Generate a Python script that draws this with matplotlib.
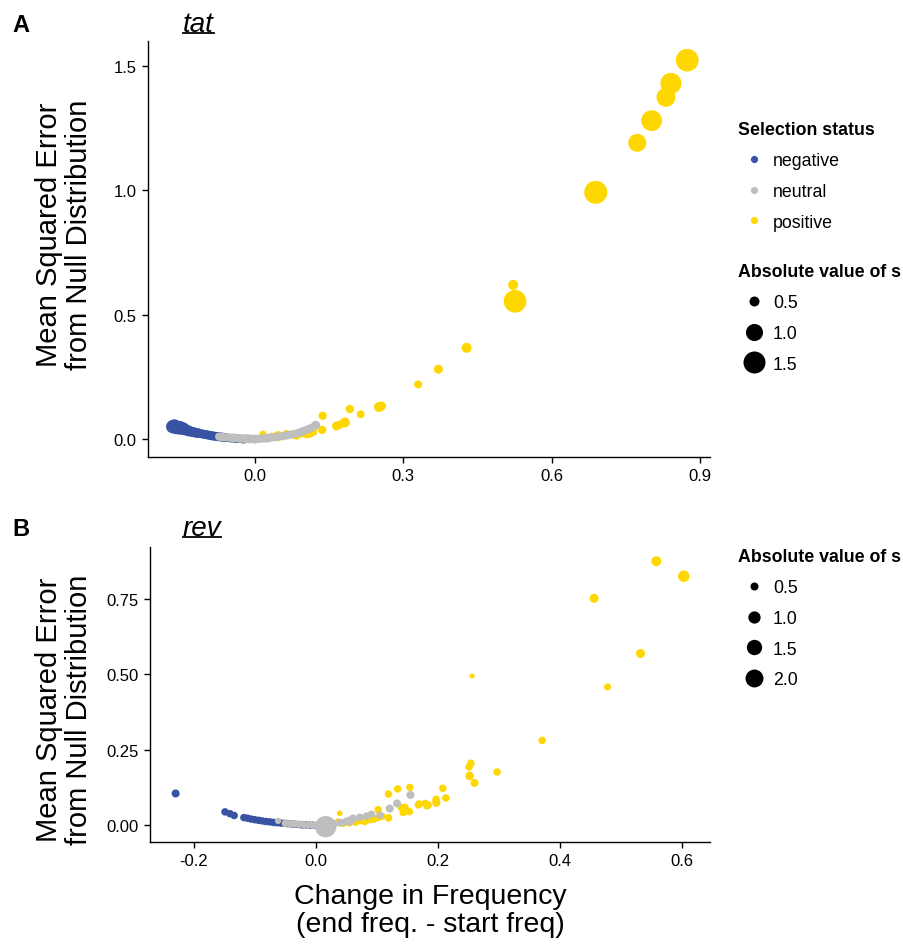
import numpy as np
import matplotlib
matplotlib.use('Agg')
import matplotlib.pyplot as plt
from matplotlib.lines import Line2D

plt.rcParams['font.family'] = ['Liberation Sans', 'DejaVu Sans']

COLORS = {'negative': '#3953A4', 'neutral': '#BEBEBE', 'positive': '#FFD700'}

# ---- panel A: tat ----
tat_neg_x = [-0.166, -0.163, -0.160, -0.158, -0.155, -0.152, -0.150, -0.147, -0.144, -0.141,
             -0.138, -0.134, -0.130, -0.126, -0.122, -0.118, -0.114, -0.110, -0.106, -0.102,
             -0.098, -0.094, -0.090, -0.086, -0.082, -0.078, -0.074, -0.070, -0.066, -0.062,
             -0.058, -0.054, -0.050, -0.046, -0.042, -0.038, -0.034, -0.030, -0.026, -0.022]
tat_neg_y = [0.050, 0.053, 0.047, 0.050, 0.046, 0.044, 0.047, 0.041, 0.043, 0.038,
             0.036, 0.033, 0.031, 0.029, 0.027, 0.025, 0.024, 0.022, 0.021, 0.019,
             0.018, 0.016, 0.015, 0.013, 0.012, 0.011, 0.010, 0.009, 0.008, 0.007,
             0.006, 0.005, 0.004, 0.003, 0.003, 0.002, 0.001, 0.001, 0.000, -0.001]
tat_neg_s = [0.7, 0.7, 0.7, 0.65, 0.7, 0.65, 0.65, 0.6, 0.6, 0.55,
             0.55, 0.55, 0.5, 0.5, 0.5, 0.48, 0.48, 0.45, 0.45, 0.45,
             0.45, 0.45, 0.45, 0.45, 0.45, 0.45, 0.45, 0.45, 0.45, 0.45,
             0.42, 0.42, 0.42, 0.42, 0.42, 0.42, 0.42, 0.42, 0.42, 0.42]

tat_neu_x = [-0.072, -0.065, -0.058, -0.050, -0.043, -0.036, -0.030, -0.024, -0.018, -0.012,
             -0.006, 0.000, 0.006, 0.012, 0.018, 0.025, 0.032, 0.040, 0.048, 0.056,
             0.064, 0.072, 0.080, 0.088, 0.095, 0.101, 0.108, 0.114, 0.123]
tat_neu_y = [0.010, 0.008, 0.007, 0.006, 0.005, 0.004, 0.003, 0.002, 0.002, 0.001,
             0.001, 0.000, 0.001, 0.002, 0.003, 0.004, 0.006, 0.008, 0.010, 0.012,
             0.015, 0.018, 0.021, 0.025, 0.030, 0.035, 0.040, 0.045, 0.056]
tat_neu_s = [0.42, 0.42, 0.42, 0.42, 0.45, 0.42, 0.45, 0.42, 0.45, 0.45,
             0.42, 0.45, 0.42, 0.42, 0.42, 0.45, 0.42, 0.42, 0.42, 0.42,
             0.42, 0.42, 0.42, 0.42, 0.42, 0.42, 0.42, 0.42, 0.45]

tat_pos_x = [0.016, 0.035, 0.047, 0.058, 0.064, 0.075, 0.084, 0.095, 0.105, 0.111,
             0.118, 0.136, 0.137, 0.165, 0.172, 0.182, 0.192, 0.214, 0.251, 0.256,
             0.330, 0.371, 0.428, 0.522, 0.526, 0.689, 0.773, 0.802, 0.831, 0.841, 0.874]
tat_pos_y = [0.020, 0.010, 0.012, 0.014, 0.020, 0.018, 0.016, 0.022, 0.020, 0.024,
             0.028, 0.037, 0.094, 0.053, 0.058, 0.067, 0.121, 0.100, 0.129, 0.133,
             0.220, 0.281, 0.367, 0.620, 0.554, 0.992, 1.191, 1.280, 1.374, 1.430, 1.523]
tat_pos_s = [0.37, 0.40, 0.50, 0.40, 0.42, 0.40, 0.45, 0.40, 0.42, 0.45,
             0.40, 0.42, 0.42, 0.45, 0.42, 0.50, 0.42, 0.40, 0.50, 0.45,
             0.41, 0.45, 0.50, 0.50, 1.58, 1.62, 1.08, 1.36, 1.18, 1.39, 1.58]

# ---- panel B: rev ----
rev_neg_x = [-0.230, -0.149, -0.141, -0.134, -0.118, -0.112, -0.106, -0.100, -0.094, -0.088,
             -0.082, -0.076, -0.070, -0.064, -0.058, -0.052, -0.046, -0.040, -0.034, -0.028,
             -0.022, -0.016, -0.010, -0.004]
rev_neg_y = [0.105, 0.044, 0.038, 0.032, 0.025, 0.023, 0.020, 0.018, 0.016, 0.014,
             0.012, 0.011, 0.009, 0.008, 0.007, 0.006, 0.005, 0.004, 0.003, 0.002,
             0.001, 0.001, 0.000, 0.000]
rev_neg_s = [0.5] + [0.45] * 23

rev_neu_x = [-0.062, -0.050, -0.042, -0.035, -0.028, -0.020, -0.012, -0.005, 0.002, 0.016,
             0.030, 0.040, 0.050, 0.056, 0.061, 0.072, 0.083, 0.091, 0.105, 0.121,
             0.133, 0.155]
rev_neu_y = [0.014, 0.006, 0.005, 0.004, 0.003, 0.002, 0.001, 0.000, 0.000, -0.005,
             0.004, 0.008, 0.012, 0.014, 0.022, 0.026, 0.030, 0.036, 0.033, 0.055,
             0.072, 0.100]
rev_neu_s = [0.35, 0.45, 0.45, 0.45, 0.45, 0.45, 0.45, 0.45, 0.45, 2.8,
             0.45, 0.5, 0.5, 0.6, 0.5, 0.45, 0.45, 0.45, 0.45, 0.5,
             0.5, 0.5]

rev_pos_x = [0.036, 0.039, 0.045, 0.055, 0.065, 0.072, 0.080, 0.088, 0.095, 0.102,
             0.102, 0.108, 0.119, 0.119, 0.134, 0.154, 0.140, 0.146, 0.143, 0.153,
             0.146, 0.169, 0.179, 0.182, 0.197, 0.198, 0.208, 0.213, 0.197, 0.197,
             0.168, 0.184, 0.254, 0.251, 0.252, 0.260, 0.256, 0.297, 0.371, 0.478,
             0.532, 0.456, 0.558, 0.603]
rev_pos_y = [0.010, 0.039, 0.006, 0.008, 0.010, 0.015, 0.012, 0.018, 0.020, 0.025,
             0.051, 0.030, 0.024, 0.103, 0.120, 0.125, 0.059, 0.047, 0.042, 0.045,
             0.059, 0.070, 0.072, 0.064, 0.080, 0.075, 0.122, 0.090, 0.086, 0.073,
             0.067, 0.067, 0.205, 0.193, 0.163, 0.140, 0.494, 0.176, 0.281, 0.458,
             0.569, 0.752, 0.875, 0.825]
rev_pos_s = [0.45, 0.30, 0.45, 0.45, 0.45, 0.45, 0.45, 0.45, 0.45, 0.45,
             0.45, 0.45, 0.45, 0.45, 0.45, 0.45, 0.45, 0.45, 0.45, 0.45,
             0.45, 0.45, 0.45, 0.45, 0.45, 0.45, 0.45, 0.45, 0.45, 0.45,
             0.45, 0.45, 0.45, 0.45, 0.55, 0.5, 0.27, 0.45, 0.45, 0.41,
             0.6, 0.6, 0.7, 0.9]

# size scales (area linear in |s|), diameter in pixels
SIZE_A = (-92, 384)
SIZE_B = (-20, 170)


def diam_pt(s, scale):
    a, b = scale
    d_px = np.sqrt(np.clip(a + b * np.asarray(s, dtype=float), 9, None))
    return d_px * 0.72


def style_axes(ax):
    for side in ['top', 'right']:
        ax.spines[side].set_visible(False)
    for side in ['left', 'bottom']:
        ax.spines[side].set_linewidth(1.0)
    ax.tick_params(direction='out', length=4, width=1.0, labelsize=12, pad=4)


def draw_panel(ax, groups, scale):
    for (x, y, s, key) in groups:
        ax.scatter(x, y, s=diam_pt(s, scale) ** 2, c=COLORS[key],
                   edgecolors='none', zorder=3)


def underlined_title(fig, x, y, text):
    t = fig.text(x, y, text, fontsize=20, fontstyle='italic', va='baseline', ha='left')
    fig.canvas.draw()
    bb = t.get_window_extent()
    yy = y * fig.bbox.height - 2
    fig.add_artist(Line2D([bb.x0 / fig.bbox.width, bb.x1 / fig.bbox.width],
                          [yy / fig.bbox.height] * 2, transform=fig.transFigure,
                          color='black', lw=1.3))


fig = plt.figure(figsize=(9.04, 9.45), dpi=100)

# panel A
axA = fig.add_axes([0.1637, 0.5153, 0.6217, 0.4402])
draw_panel(axA, [(tat_neg_x, tat_neg_y, tat_neg_s, 'negative'),
                 (tat_pos_x, tat_pos_y, tat_pos_s, 'positive'),
                 (tat_neu_x, tat_neu_y, tat_neu_s, 'neutral')], SIZE_A)
axA.set_xlim(-0.216, 0.92)
axA.set_ylim(-0.072, 1.6)
axA.set_xticks([0, 0.3, 0.6, 0.9], ['0.0', '0.3', '0.6', '0.9'])
axA.set_yticks([0, 0.5, 1.0, 1.5], ['0.0', '0.5', '1.0', '1.5'])
style_axes(axA)

# panel B
axB = fig.add_axes([0.1659, 0.1079, 0.6195, 0.3122])
draw_panel(axB, [(rev_neg_x, rev_neg_y, rev_neg_s, 'negative'),
                 (rev_pos_x, rev_pos_y, rev_pos_s, 'positive'),
                 (rev_neu_x, rev_neu_y, rev_neu_s, 'neutral')], SIZE_B)
axB.set_xlim(-0.272, 0.646)
axB.set_ylim(-0.056, 0.922)
axB.set_xticks([-0.2, 0, 0.2, 0.4, 0.6], ['-0.2', '0.0', '0.2', '0.4', '0.6'])
axB.set_yticks([0, 0.25, 0.5, 0.75], ['0.00', '0.25', '0.50', '0.75'])
style_axes(axB)

# axis labels
ylab = 'Mean Squared Error\nfrom Null Distribution'
fig.text(64 / 904, 1 - 235 / 945, ylab, rotation=90, ha='center', va='center',
         fontsize=21, multialignment='center', linespacing=1.1)
fig.text(64 / 904, 1 - 710 / 945, ylab, rotation=90, ha='center', va='center',
         fontsize=21, multialignment='center', linespacing=1.1)
fig.text(430 / 904, 1 - 911 / 945, 'Change in Frequency\n(end freq. - start freq)',
         ha='center', va='center', fontsize=20.5, multialignment='center', linespacing=1.1)

# panel letters and titles
fig.text(12 / 904, 1 - 32 / 945, 'A', fontsize=17, fontweight='bold', va='baseline')
fig.text(12 / 904, 1 - 536 / 945, 'B', fontsize=17, fontweight='bold', va='baseline')
underlined_title(fig, 183 / 904, 1 - 32 / 945, 'tat')
underlined_title(fig, 183 / 904, 1 - 536 / 945, 'rev')

# legends
status = ['negative', 'neutral', 'positive']
leg_kw = dict(frameon=False, loc='upper left', borderpad=0, borderaxespad=0,
              fontsize=12.8, handlelength=1.8, handletextpad=0.17, labelspacing=0.78,
              alignment='left', title_fontproperties={'weight': 'bold', 'size': 12.8})

h_status = [Line2D([], [], ls='', marker='o', markersize=5.2, markeredgewidth=0,
                   color=COLORS[k]) for k in status]
fig.legend(h_status, status, title='Selection status',
           bbox_to_anchor=(738 / 904, 1 - 122 / 945), **leg_kw)

sizes_A = [0.5, 1.0, 1.5]
h_sizeA = [Line2D([], [], ls='', marker='o', markeredgewidth=0, color='black',
                  markersize=float(diam_pt(v, SIZE_A))) for v in sizes_A]
fig.legend(h_sizeA, ['%.1f' % v for v in sizes_A], title='Absolute value of s',
           bbox_to_anchor=(738 / 904, 1 - 264 / 945), **leg_kw)

sizes_B = [0.5, 1.0, 1.5, 2.0]
h_sizeB = [Line2D([], [], ls='', marker='o', markeredgewidth=0, color='black',
                  markersize=float(diam_pt(v, SIZE_B))) for v in sizes_B]
fig.legend(h_sizeB, ['%.1f' % v for v in sizes_B], title='Absolute value of s',
           bbox_to_anchor=(738 / 904, 1 - 549 / 945), **leg_kw)

fig.savefig('out.png', dpi=100)
